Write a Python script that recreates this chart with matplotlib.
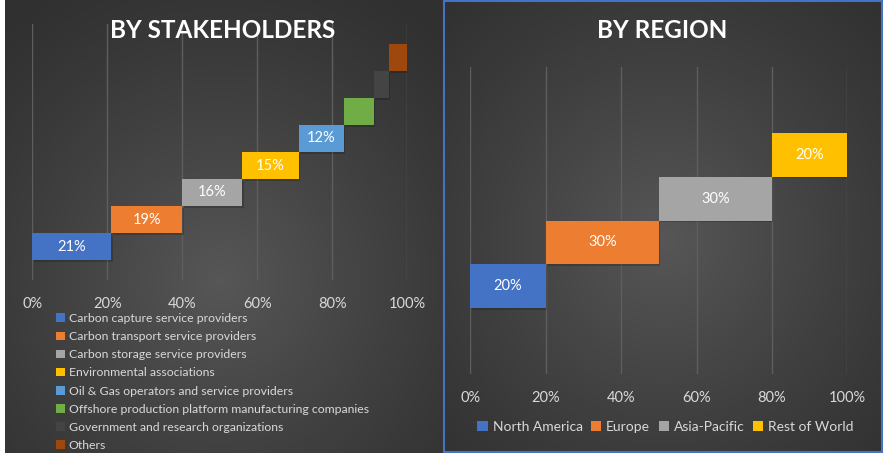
import numpy as np
import matplotlib
matplotlib.use("Agg")
import matplotlib.pyplot as plt
from matplotlib.patches import Rectangle

plt.rcParams['font.family'] = ['Lato', 'DejaVu Sans']

# ---------------- data ----------------
stake_labels = ["Carbon capture service providers",
                "Carbon transport service providers",
                "Carbon storage service providers",
                "Environmental associations",
                "Oil & Gas operators and service providers",
                "Offshore production platform manufacturing companies",
                "Government and research organizations",
                "Others"]
stake_values = [21, 19, 16, 15, 12, 8, 4, 5]
stake_shown = ["21%", "19%", "16%", "15%", "12%", "", "", ""]
stake_colors = ["#4472C4", "#ED7D31", "#A5A5A5", "#FFC000",
                "#5B9BD5", "#70AD47", "#444444", "#9E480E"]

region_labels = ["North America", "Europe", "Asia-Pacific", "Rest of World"]
region_values = [20, 30, 30, 20]
region_colors = ["#4472C4", "#ED7D31", "#A5A5A5", "#FFC000"]

xticks = [0, 20, 40, 60, 80, 100]
xtick_labels = ["0%", "20%", "40%", "60%", "80%", "100%"]

W, H = 884, 453
fig = plt.figure(figsize=(W / 100, H / 100), dpi=100)
fig.patch.set_facecolor("white")


def px_axes(x0, y0, x1, y1, **kw):
    """axes from pixel box (top-left origin)"""
    return fig.add_axes([x0 / W, 1 - y1 / H, (x1 - x0) / W, (y1 - y0) / H], **kw)


def gradient_bg(x0, y0, x1, y1, cx, cy, border=None):
    ax = px_axes(x0, y0, x1, y1)
    w, h = int(x1 - x0), int(y1 - y0)
    yy, xx = np.mgrid[0:h, 0:w]
    r = np.sqrt(((xx - (cx - x0)) / (w * 0.75)) ** 2 + ((yy - (cy - y0)) / (h * 0.75)) ** 2)
    r = np.clip(r, 0, 1)
    c_in, c_out = 0.34, 0.19
    v = c_out + (c_in - c_out) * (1 - r) ** 1.2
    img = np.dstack([v, v, v])
    ax.imshow(img, aspect="auto", extent=[0, 1, 0, 1], interpolation="bilinear")
    ax.set_xlim(0, 1)
    ax.set_ylim(0, 1)
    ax.set_axis_off()
    if border:
        ax.add_patch(Rectangle((0, 0), 1, 1, transform=ax.transAxes, fill=False,
                               edgecolor=border, linewidth=1.5, clip_on=False))
    return ax


gradient_bg(5, 0, 443, 453, 220, 280)
gradient_bg(443.5, 1, 882, 451.5, 662, 240, border="#4472C4")


def style_axes(ax):
    ax.set_facecolor("none")
    for s in ax.spines.values():
        s.set_visible(False)
    ax.set_xlim(0, 100)
    ax.set_xticks(xticks)
    ax.set_xticklabels(xtick_labels)
    ax.tick_params(axis="x", length=0, colors="#D9D9D9", labelsize=10.5, pad=12)
    ax.set_yticks([])
    ax.grid(axis="x", color="#5E5E5E", linewidth=1)
    ax.set_axisbelow(True)


# ---------------- left: stakeholders ----------------
axL = px_axes(32.3, 24, 407.3, 280)
style_axes(axL)
n = len(stake_values)
pad = 20 / 27
axL.set_ylim(-0.5 - pad, n - 0.5 + pad)
lefts = np.concatenate([[0], np.cumsum(stake_values)[:-1]])
barsL = []
for i, (v, l, c, lab) in enumerate(zip(stake_values, lefts, stake_colors, stake_labels)):
    axL.barh(i - 0.06, v, left=l + 0.4, height=1.0, color="black", alpha=0.18, zorder=2)
    b = axL.barh(i, v, left=l, height=1.0, color=c, label=lab, zorder=3)
    barsL.append(b)
for i, (v, l, t) in enumerate(zip(stake_values, lefts, stake_shown)):
    if t:
        axL.text(l + v / 2, i, t, ha="center", va="center", color="white",
                 fontsize=10.5, zorder=4)
fig.text(223 / W, 1 - 31 / H, "BY STAKEHOLDERS", ha="center", va="center",
         color="white", fontsize=17.5, fontweight="bold")

legL = fig.legend(handles=[b[0] for b in barsL], labels=stake_labels,
                  loc="upper left", bbox_to_anchor=(56 / W, 1 - 313 / H),
                  ncol=1, frameon=False, fontsize=8.8, labelcolor="#D9D9D9",
                  handlelength=0.7, handleheight=0.7, handletextpad=0.35,
                  labelspacing=0.585, borderaxespad=0, borderpad=0)

# ---------------- right: region ----------------
axR = px_axes(470.3, 67, 847.3, 374)
style_axes(axR)
m = len(region_values)
padR = 66.3 / 44
axR.set_ylim(-0.5 - padR, m - 0.5 + padR)
leftsR = np.concatenate([[0], np.cumsum(region_values)[:-1]])
barsR = []
for i, (v, l, c, lab) in enumerate(zip(region_values, leftsR, region_colors, region_labels)):
    axR.barh(i - 0.04, v, left=l + 0.4, height=1.0, color="black", alpha=0.18, zorder=2)
    b = axR.barh(i, v, left=l, height=1.0, color=c, label=lab, zorder=3)
    barsR.append(b)
    axR.text(l + v / 2, i, f"{v}%", ha="center", va="center", color="white",
             fontsize=10.5, zorder=4)
fig.text(662 / W, 1 - 31 / H, "BY REGION", ha="center", va="center",
         color="white", fontsize=17.5, fontweight="bold")

legR = fig.legend(handles=[b[0] for b in barsR], labels=region_labels,
                  loc="center", bbox_to_anchor=(665.5 / W, 1 - 427 / H),
                  ncol=4, frameon=False, fontsize=10, labelcolor="#D9D9D9",
                  handlelength=0.75, handleheight=0.75, handletextpad=0.35,
                  columnspacing=0.6, borderaxespad=0, borderpad=0)

fig.savefig("out.png", dpi=100, facecolor=fig.get_facecolor())
